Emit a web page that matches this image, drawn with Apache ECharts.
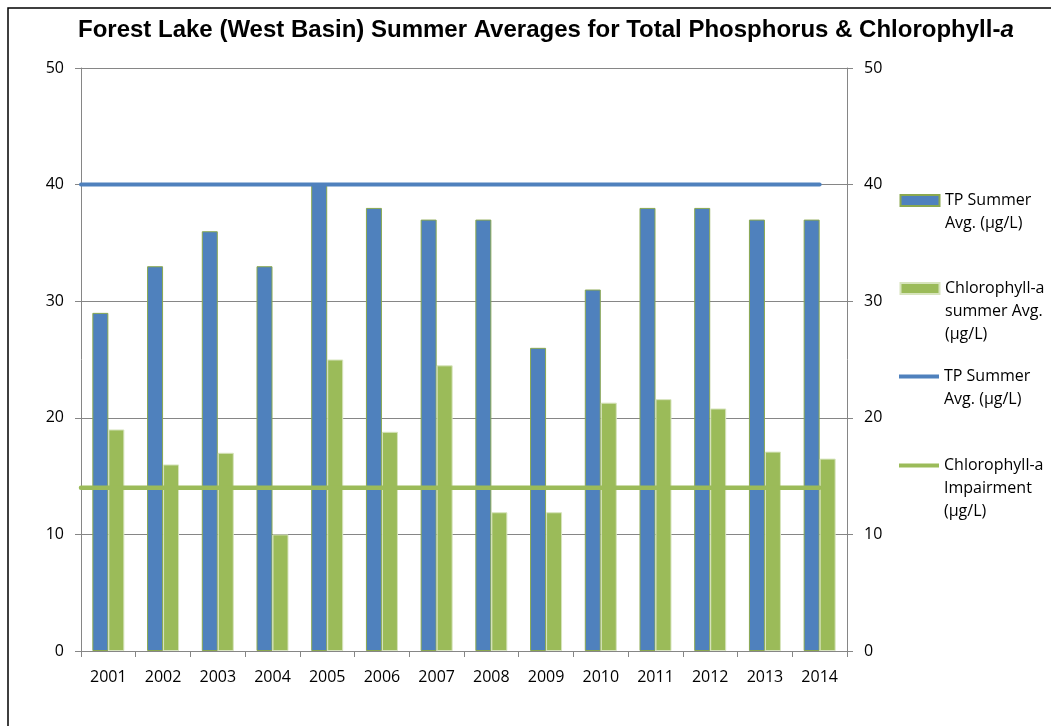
<!DOCTYPE html>
<html>
  <head>
    <meta charset="utf-8" />
    <title>Forest Lake (West Basin)</title>
    <script src="https://cdn.jsdelivr.net/npm/echarts@6/dist/echarts.min.js"></script>
    <style>
      * {
        margin: 0;
        padding: 0;
        box-sizing: border-box;
      }
      body {
        background: #fff;
      }
    </style>
  </head>
  <body>
    <div id="main" style="width: 1051px; height: 726px"></div>
    <script type="text/javascript">
      const years = [
        "2001", "2002", "2003", "2004", "2005", "2006", "2007",
        "2008", "2009", "2010", "2011", "2012", "2013", "2014",
      ];
      const tpAvg = [29, 33, 36, 33, 40, 38, 37, 37, 26, 31, 38, 38, 37, 37];
      const chlAvg = [19, 16, 17, 10, 25, 18.8, 24.5, 11.9, 11.9, 21.3, 21.6, 20.8, 17.1, 16.5];
      // impairment standards, drawn from the first category edge to the last category centre
      const tpImpairment = 40;
      const chlImpairment = 14;
      const impairSpan = [0, 13.5];

      const names = {
        tpBar: "TP Summer\nAvg. (µg/L)",
        chlBar: "Chlorophyll-a\nsummer Avg.\n(µg/L)",
        tpLine: "TP Summer \nAvg. (µg/L)",
        chlLine: "Chlorophyll-a\nImpairment\n(µg/L)",
      };

      var myChart = echarts.init(document.getElementById("main"));

      const font = "'Open Sans', sans-serif";
      const lh = 23;
      // legend icon sits beside the first text line: the path's bounding box
      // spans the whole text block (moveTo points), only a strip is drawn
      function legendFor(name, top, lines, isLine) {
        const h = lines * lh;
        const strip = isLine
          ? "M0,9.5h40v4h-40z"
          : "M0.5,6h39v11h-39z";
        return {
          data: [
            {
              name: name,
              icon: "path://M0,0" + strip + "M40," + h,
              itemStyle: isLine ? { borderWidth: 0 } : {},
            },
          ],
          orient: "vertical",
          left: 899,
          top: top,
          padding: 0,
          itemWidth: 40,
          itemHeight: h,
          itemGap: 0,
          selectedMode: false,
          textStyle: {
            fontFamily: font,
            fontSize: 16,
            color: "#000",
            lineHeight: lh,
          },
        };
      }

      var option = {
        backgroundColor: "#fff",
        animation: false,
        title: {
          text: "{b|Forest Lake (West Basin) Summer Averages for Total Phosphorus & Chlorophyll-}{i|a}",
          left: 78,
          top: 18,
          padding: 0,
          textStyle: {
            rich: {
              b: { fontFamily: "'Liberation Sans'", fontWeight: "bold", fontSize: 24, color: "#000" },
              i: { fontFamily: "'Liberation Sans'", fontWeight: "bold", fontStyle: "italic", fontSize: 24, color: "#000" },
            },
          },
        },
        graphic: [
          {
            type: "rect",
            shape: { x: 8, y: 8, width: 1200, height: 900 },
            style: { fill: "none", stroke: "#000", lineWidth: 1.5 },
            silent: true,
          },
        ],
        legend: [
          legendFor(names.tpBar, 188, 2, false),
          legendFor(names.chlBar, 276, 3, false),
          legendFor(names.tpLine, 365, 2, true),
          legendFor(names.chlLine, 454, 3, true),
        ],
        grid: { left: 81, right: 204, top: 68, bottom: 75 },
        xAxis: [
          {
            type: "category",
            data: years,
            axisLine: { lineStyle: { color: "#868686", width: 1 } },
            axisTick: { show: true, length: 6, lineStyle: { color: "#868686" } },
            axisLabel: { fontFamily: font, fontSize: 16, color: "#000", margin: 18 },
          },
          {
            type: "value",
            min: 0,
            max: 14,
            show: false,
          },
        ],
        yAxis: [
          {
            type: "value",
            min: 0,
            max: 50,
            interval: 10,
            axisLine: { show: true, lineStyle: { color: "#868686" } },
            axisTick: { show: true, length: 6, lineStyle: { color: "#868686" } },
            axisLabel: { fontFamily: font, fontSize: 16, color: "#000", margin: 17 },
            splitLine: { lineStyle: { color: "#868686", width: 1 } },
          },
          {
            type: "value",
            min: 0,
            max: 50,
            interval: 10,
            position: "right",
            axisLine: { show: true, lineStyle: { color: "#868686" } },
            axisTick: { show: true, length: 6, lineStyle: { color: "#868686" } },
            axisLabel: { fontFamily: font, fontSize: 16, color: "#000", margin: 17 },
            splitLine: { show: false },
          },
        ],
        series: [
          {
            name: names.tpBar,
            type: "bar",
            data: tpAvg,
            barWidth: 16,
            barGap: "0%",
            itemStyle: { color: "#4f81bd", borderColor: "#8aa84f", borderWidth: 1 },
          },
          {
            name: names.chlBar,
            type: "bar",
            data: chlAvg,
            barWidth: 16,
            barGap: "0%",
            itemStyle: { color: "#9bbb59", borderColor: "#d7e4bd", borderWidth: 1 },
          },
          {
            name: names.tpLine,
            type: "line",
            xAxisIndex: 1,
            yAxisIndex: 1,
            symbol: "none",
            z: 5,
            data: impairSpan.map((x) => [x, tpImpairment]),
            lineStyle: { color: "#4f81bd", width: 4, cap: "round" },
            itemStyle: { color: "#4f81bd" },
          },
          {
            name: names.chlLine,
            type: "line",
            xAxisIndex: 1,
            yAxisIndex: 1,
            symbol: "none",
            z: 5,
            data: impairSpan.map((x) => [x, chlImpairment]),
            lineStyle: { color: "#9bbb59", width: 4.5, cap: "round" },
            itemStyle: { color: "#9bbb59" },
          },
        ],
      };

      myChart.setOption(option);
    </script>
  </body>
</html>
